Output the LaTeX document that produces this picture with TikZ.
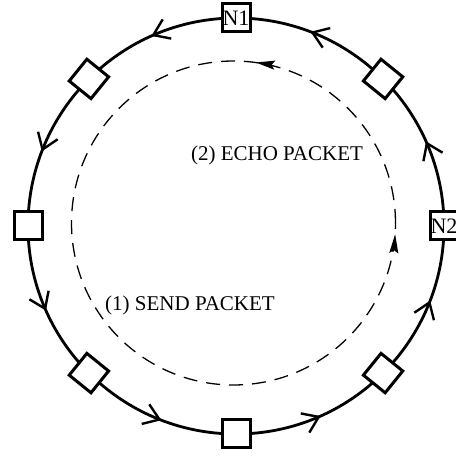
\documentclass[tikz,border=0pt]{standalone}
\usepackage{fontspec}
\setmainfont{Liberation Serif}
\usetikzlibrary{arrows.meta,decorations.markings}
\tikzset{
  barb/.tip={Straight Barb[length=15pt,width=21pt,line width=2.4pt]},
  dart/.tip={Stealth[length=19pt,width=9pt,inset=3pt]},
  ring/.style={line width=2.8pt},
  ringflow/.style={
    decoration={markings,
      mark=at position 0.0667 with {\arrow{barb}},
      mark=at position 0.1917 with {\arrow{barb}},
      mark=at position 0.3167 with {\arrow{barb}},
      mark=at position 0.4417 with {\arrow{barb}},
      mark=at position 0.5667 with {\arrow{barb}},
      mark=at position 0.6917 with {\arrow{barb}},
      mark=at position 0.8167 with {\arrow{barb}},
      mark=at position 0.9417 with {\arrow{barb}}},
    postaction=decorate},
  pathway/.style={line width=1.3pt, dash pattern=on 14pt off 9pt,
    decoration={markings,
      mark=at position 0.228 with {\arrow{dart}},
      mark=at position 0.989 with {\arrow{dart}}},
    postaction=decorate},
  station/.style={draw, line width=3pt, fill=white, minimum size=28pt,
    inner sep=0pt, font=\fontsize{22}{22}\selectfont},
  tilted/.style={station, rotate=51},
  caption/.style={font=\fontsize{21}{24}\selectfont, inner sep=0pt}
}
\begin{document}
\begin{tikzpicture}[x=1pt,y=1pt]
  \useasboundingbox (0,0) rectangle (456,456);
  \coordinate (c) at (236,230);
  \coordinate (ci) at (233.5,233);

  % the ring and the packet route inside it
  \draw[ring, ringflow] (c) circle (208);
  \draw[pathway] (ci) circle (162);

  % stations on the ring
  \node[station] (n1) at ([shift={(90:208)}]c) {N1};
  \node[station] (n2) at ([shift={(0:208)}]c) {N2};
  \node[station] (w)  at ([shift={(180:208)}]c) {};
  \node[station] (s)  at ([shift={(270:208)}]c) {};
  \node[tilted] (ne) at ([shift={(45:208)}]c) {};
  \node[tilted] (nw) at ([shift={(135:208)}]c) {};
  \node[tilted] (sw) at ([shift={(225:208)}]c) {};
  \node[tilted] (se) at ([shift={(315:208)}]c) {};

  % labels
  \node[caption] (echo) at (277,301) {(2) ECHO PACKET};
  \node[caption] (send) at (190,151) {(1) SEND PACKET};
\end{tikzpicture}
\end{document}
